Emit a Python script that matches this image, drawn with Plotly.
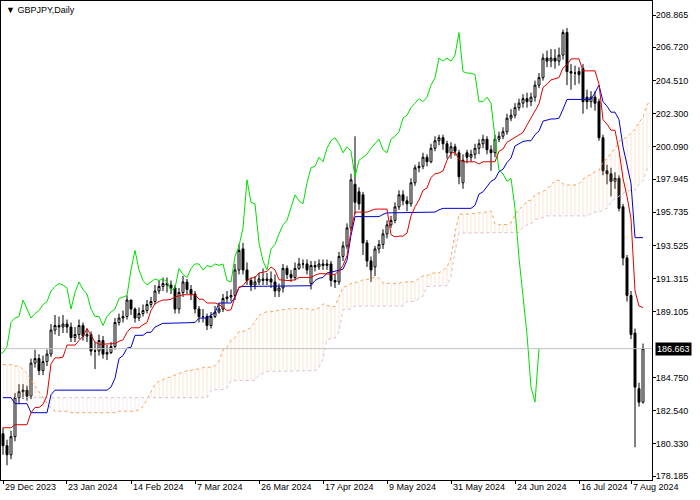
import plotly.graph_objects as go
import pandas as pd
import numpy as np

opens = [181.0,180.2,179.6,180.8,183.4,183.8,183.9,183.5,185.7,186.0,
185.2,185.8,186.3,187.9,188.2,188.1,188.3,188.1,187.4,187.6,
188.2,187.5,187.6,186.5,186.5,187.2,186.3,186.4,186.8,188.4,
188.7,188.8,189.9,189.3,188.7,189.0,189.2,189.6,189.8,190.5,
190.8,191.0,190.9,190.7,189.3,190.4,191.1,190.6,190.3,189.3,
188.8,188.8,188.2,188.8,189.1,189.3,190.0,190.1,190.2,191.9,
193.3,191.9,191.2,190.9,191.1,191.3,191.2,191.3,191.1,190.5,
190.7,192.0,191.6,191.4,192.0,192.3,192.3,191.0,192.2,192.1,
192.3,192.2,192.3,191.2,191.1,192.8,193.5,194.7,197.6,197.1,
196.9,193.7,192.5,192.1,193.3,193.6,194.3,194.9,195.2,196.1,
196.9,196.5,196.3,197.7,198.7,198.8,199.4,199.1,200.0,200.5,
200.7,200.3,199.7,200.1,199.7,197.7,199.7,199.4,199.6,200.0,
200.3,200.6,199.9,199.7,200.6,200.8,201.1,202.0,202.2,202.7,
203.0,203.3,203.1,203.4,204.2,204.7,206.0,205.8,206.0,205.8,
206.2,207.7,205.1,205.0,205.1,205.3,203.4,203.1,203.4,203.1,
200.7,198.5,198.3,197.8,198.0,196.1,192.7,190.2,187.7,184.0,
183.1]
closes = [180.2,179.6,180.8,183.4,183.8,183.9,183.5,185.7,186.0,185.2,
185.8,186.3,187.9,188.2,188.1,188.3,188.1,187.4,187.6,188.2,
187.5,187.6,186.5,186.5,187.2,186.3,186.4,186.8,188.4,188.7,
188.8,189.9,189.3,188.7,189.0,189.2,189.6,189.8,190.5,190.8,
191.0,190.9,190.7,189.3,190.4,191.1,190.6,190.3,189.3,188.8,
188.8,188.2,188.8,189.1,189.3,190.0,190.1,190.2,191.9,193.2,
191.9,191.2,190.9,191.1,191.3,191.2,191.3,191.1,190.5,190.7,
192.0,191.6,191.4,192.0,192.3,192.3,191.9,192.2,192.1,192.3,
192.2,192.3,191.2,191.1,192.8,193.5,194.7,197.9,196.4,196.3,
193.7,192.5,191.9,193.3,193.6,194.3,194.9,195.2,196.1,196.9,
196.5,196.3,197.7,198.7,198.8,199.4,199.1,200.0,200.5,200.7,
200.3,199.7,200.1,199.8,198.1,199.2,199.4,199.6,200.0,200.3,
200.6,199.9,199.7,200.6,200.8,201.1,202.0,202.2,202.7,203.0,
203.3,203.1,203.4,204.2,204.7,206.0,205.8,206.0,205.8,206.2,
207.7,205.1,205.0,205.0,204.9,203.1,203.1,203.4,203.0,200.7,
198.5,198.3,197.8,198.0,196.0,192.7,190.2,187.6,184.1,183.1,
186.663]
highs = [181.4,180.6,181.2,183.7,184.3,184.3,184.2,186.0,186.6,186.3,
186.2,186.6,188.3,188.9,188.8,188.9,188.6,188.4,188.1,188.6,
188.4,188.0,187.8,187.1,187.6,187.5,186.9,187.1,188.7,189.0,
189.2,190.2,189.9,189.4,189.4,189.6,189.9,190.1,190.9,191.2,
191.4,191.4,191.2,190.9,190.7,191.5,191.3,190.9,190.5,189.5,
189.3,189.0,189.1,189.5,189.7,190.3,190.5,190.6,192.3,193.6,
193.7,192.4,191.4,191.5,191.7,192.0,191.7,191.8,191.6,191.0,
192.3,192.2,191.9,192.4,192.7,192.6,192.6,192.5,192.5,192.6,
192.6,192.6,192.5,191.6,193.1,193.8,195.0,198.3,200.8,197.4,
197.1,193.9,192.8,193.5,193.9,194.6,195.2,195.5,196.4,197.2,
197.2,196.8,198.0,198.9,199.1,199.7,199.6,200.3,200.8,200.9,
200.9,200.5,200.4,200.3,199.9,199.6,199.9,199.9,200.3,200.6,
200.9,200.8,200.2,200.9,201.1,201.4,202.3,202.6,203.0,203.3,
203.6,203.7,203.7,204.5,205.0,206.3,206.5,206.6,206.6,206.7,
207.9,208.0,205.6,205.5,205.4,205.6,203.9,203.8,203.8,203.3,
200.9,198.9,198.7,198.4,198.2,196.3,192.9,190.5,188.0,184.4,
187.0]
lows = [179.6,178.9,179.3,180.5,183.0,183.3,183.2,183.3,185.4,184.9,
184.9,185.5,186.1,187.6,187.5,187.7,187.7,187.1,187.1,187.3,
187.2,187.1,186.2,185.3,186.2,186.0,185.9,186.3,186.6,188.2,
188.4,188.6,188.9,188.4,188.5,188.8,189.0,189.4,189.6,190.3,
190.5,190.4,190.3,189.0,189.0,190.1,190.3,189.9,189.0,188.4,
188.4,187.9,188.0,188.7,189.0,189.1,189.7,189.8,189.9,191.6,
191.6,190.9,190.5,190.6,190.9,190.9,190.9,190.7,190.1,190.1,
190.4,191.3,191.1,191.2,191.9,192.0,191.6,190.6,191.8,191.9,
191.9,191.9,190.8,190.7,190.9,192.5,193.3,194.5,195.6,195.9,
192.9,192.1,191.1,191.5,193.0,193.3,194.0,194.7,195.0,195.9,
196.2,195.8,196.1,197.5,198.4,198.6,198.8,199.0,199.8,200.2,
199.9,199.3,199.3,199.5,197.6,197.3,199.0,199.1,199.3,199.6,
200.0,199.6,198.5,199.4,200.4,200.6,200.9,201.8,202.0,202.5,
202.7,202.7,202.8,203.1,204.0,204.5,205.4,205.4,205.3,205.5,
205.9,204.2,203.9,204.2,204.3,202.3,202.6,202.7,202.5,200.5,
198.2,197.6,196.8,197.3,195.8,192.2,189.8,187.3,180.1,182.8,
183.0]

# Ichimoku values before the data window
tenkan_early = [181.4,181.4,181.4,181.6,181.6,181.6,181.6,182.4]
kijun_early = [183.4,183.4,183.4,183.0,183.0,183.0,183.0,182.4,182.4,182.4,182.4,182.4]
span_a_early = [185.6,185.6,185.6,185.5,185.5,185.3,185.0,184.6,184.2,183.8,
183.4,183.0,182.7,182.5,182.5,182.5,182.5,182.4,182.4,182.4,
182.4,182.4,182.4,182.4,182.4,182.4,182.4,182.4,182.4,182.5,
182.5,182.5,182.5,182.5,182.6,182.8,183.3,183.8,184.3,184.5,
184.6,184.7,184.8,184.9,185.0,185.1,185.2,185.2,185.3,185.3,
185.4]
span_b_early = [183.4,183.4,183.4,183.4,183.4,183.4,183.4,183.4,183.4,183.4,
183.4,183.4,183.4,183.4,183.4,183.4,183.4,183.4,183.4,183.4,
183.4,183.4,183.4,183.4,183.4,183.4,183.4,183.4,183.4,183.4,
183.4,183.4,183.4,183.4,183.4,183.4,183.4,183.4,183.4,183.4,
183.4,183.4,183.4,183.4,183.4,183.4,183.4,183.4,183.4,183.4,
183.4,183.4]

tick_pos = [0, 15.75, 32, 48, 64, 80, 96, 112, 128, 144, 157]
tick_text = ["29 Dec 2023","23 Jan 2024","14 Feb 2024","7 Mar 2024","26 Mar 2024",
             "17 Apr 2024","9 May 2024","31 May 2024","24 Jun 2024","16 Jul 2024","7 Aug 2024"]
ytick_vals = [208.865,206.720,204.510,202.300,200.090,197.945,195.735,193.525,
              191.315,189.105,184.750,182.540,180.330,178.185]
bid = 186.663

n = len(closes)
idx = np.arange(n)
H = pd.Series(highs); L = pd.Series(lows)
tenkan = ((H.rolling(9, min_periods=1).max() + L.rolling(9, min_periods=1).min()) / 2).values
kijun = ((H.rolling(26, min_periods=1).max() + L.rolling(26, min_periods=1).min()) / 2).values
tenkan[:len(tenkan_early)] = tenkan_early
kijun[:len(kijun_early)] = kijun_early
spanb_bar = ((H.rolling(52, min_periods=1).max() + L.rolling(52, min_periods=1).min()) / 2).values
spana_bar = (tenkan + kijun) / 2

xmax = 162
jx = np.arange(0, xmax + 1)
A = np.array([span_a_early[j] if j < len(span_a_early) else spana_bar[j - 26] for j in jx])
B = np.array([span_b_early[j] if j < len(span_b_early) else spanb_bar[j - 26] for j in jx])
top = np.maximum(A, B)

fig = go.Figure()
pat = lambda c: dict(shape="|", fgcolor=c, bgcolor="rgba(0,0,0,0)", size=4, solidity=0.15)
fig.add_trace(go.Scatter(x=jx, y=B, mode="lines", line=dict(width=0), hoverinfo="skip"))
fig.add_trace(go.Scatter(x=jx, y=top, mode="lines", line=dict(width=0), fill="tonexty",
                         fillcolor="rgba(0,0,0,0)", fillpattern=pat("#f4a460"), hoverinfo="skip"))
fig.add_trace(go.Scatter(x=jx, y=A, mode="lines", line=dict(width=0), hoverinfo="skip"))
fig.add_trace(go.Scatter(x=jx, y=top, mode="lines", line=dict(width=0), fill="tonexty",
                         fillcolor="rgba(0,0,0,0)", fillpattern=pat("#d8bfd8"), hoverinfo="skip"))
fig.add_trace(go.Scatter(x=jx, y=A, mode="lines", line=dict(color="#f4a460", width=1, dash="dot")))
fig.add_trace(go.Scatter(x=jx, y=B, mode="lines", line=dict(color="#d8bfd8", width=1, dash="dot")))

fig.add_shape(type="line", xref="paper", x0=0, x1=1, y0=bid, y1=bid, line=dict(color="#c0c0c0", width=1))

fig.add_trace(go.Scatter(x=idx - 26, y=closes, mode="lines", line=dict(color="#00e000", width=1)))
fig.add_trace(go.Scatter(x=idx, y=kijun, mode="lines", line=dict(color="#0000cd", width=1)))
fig.add_trace(go.Scatter(x=idx, y=tenkan, mode="lines", line=dict(color="#e00000", width=1)))

fig.add_trace(go.Candlestick(x=idx, open=opens, high=highs, low=lows, close=closes,
    increasing=dict(fillcolor="white", line=dict(color="black", width=1)),
    decreasing=dict(fillcolor="black", line=dict(color="black", width=1)),
    whiskerwidth=0))

F = "Liberation Sans"
ann = []
for p, t in zip(tick_pos, tick_text):
    ann.append(dict(x=p, y=0, xref="x", yref="paper", yshift=0, text=t, showarrow=False,
                    xanchor="left", yanchor="top", font=dict(family=F, size=9, color="black")))
ann.append(dict(x=1, y=bid, xref="paper", yref="y", xanchor="left", text=f"{bid:.3f}", showarrow=False,
                bgcolor="black", font=dict(family=F, color="white", size=9), xshift=3, borderpad=1))
ann.append(dict(x=0, y=1, xref="paper", yref="paper", xanchor="left", yanchor="top", xshift=3, yshift=-2,
                text="▼ GBPJPY,Daily", showarrow=False, font=dict(family=F, size=9, color="black")))

fig.update_layout(width=700, height=500, margin=dict(l=1, r=48, t=1, b=20, autoexpand=False),
    paper_bgcolor="white", plot_bgcolor="white", showlegend=False,
    font=dict(family=F, size=9, color="black"), annotations=ann)
fig.update_xaxes(range=[-0.5, 162.25], showgrid=False, zeroline=False, rangeslider_visible=False,
    showline=True, linecolor="black", mirror=True, tickvals=tick_pos, ticktext=[""] * len(tick_pos),
    ticks="outside", ticklen=3, tickcolor="black", automargin=False)
fig.update_yaxes(range=[177.92, 209.80], side="right", showgrid=False, zeroline=False,
    showline=True, linecolor="black", mirror=True, tickvals=ytick_vals,
    ticktext=[f"{v:.3f}" for v in ytick_vals], ticks="outside", ticklen=3, tickcolor="black",
    tickfont=dict(family=F, size=9), automargin=False, ticklabelstandoff=-2)
fig.write_html("out.html", config={"displayModeBar": False},
               post_script="document.body.style.margin='0';")
